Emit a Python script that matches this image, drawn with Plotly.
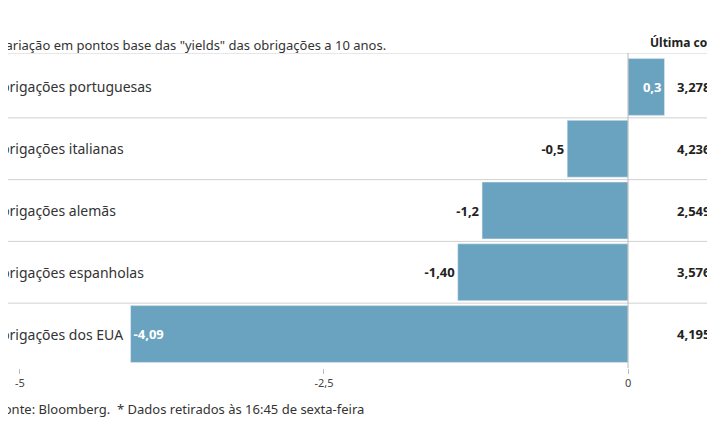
import plotly.graph_objects as go

paises = ["Obrigações portuguesas", "Obrigações italianas", "Obrigações alemãs",
          "Obrigações espanholas", "Obrigações dos EUA"]
variacao = [0.3, -0.5, -1.2, -1.40, -4.09]
rotulos = ["0,3", "-0,5", "-1,2", "-1,40", "-4,09"]
cotacao = ["3,278%", "4,236%", "2,549%", "3,576%", "4,195%"]

cor = "#6aa3bf"
pos = ["inside", "outside", "outside", "outside", "inside"]
cores_txt = ["white", "#222", "#222", "#222", "white"]

fig = go.Figure(go.Bar(
    x=variacao, y=paises, orientation="h", marker_color=cor, width=0.92,
    text=["<b>" + r + "</b>" for r in rotulos], textposition=pos, insidetextanchor="end",
    textfont=dict(color=cores_txt, size=13), cliponaxis=False,
))

for i, p in enumerate(paises):
    fig.add_annotation(x=-0.028, xref="paper", y=p, yref="y", text=p, showarrow=False,
                       xanchor="left", font=dict(size=14, color="#333"))
    fig.add_annotation(x=0.933, xref="paper", y=p, yref="y", text="<b>" + cotacao[i] + "</b>",
                       showarrow=False, xanchor="left", font=dict(size=13, color="#222"))
    if i > 0:
        fig.add_shape(type="line", xref="paper", x0=0, x1=1, y0=i - 0.5, y1=i - 0.5,
                      line=dict(color="#d0d0d0", width=1))
fig.add_shape(type="line", xref="paper", x0=0, x1=1, y0=-0.55, y1=-0.55,
              line=dict(color="#d0d0d0", width=1))
fig.add_shape(type="line", x0=0, x1=0, y0=-0.55, y1=4.55, line=dict(color="#bbb", width=1))

fig.add_annotation(x=-0.017, xref="paper", y=1.06, yref="paper", showarrow=False, xanchor="left",
                   text="Variação em pontos base das \"yields\" das obrigações a 10 anos.",
                   font=dict(size=13, color="#333"))
fig.add_annotation(x=0.895, xref="paper", y=1.0, yref="paper", yanchor="bottom", showarrow=False,
                   xanchor="left", text="<b>Última cotação</b>", font=dict(size=12, color="#222"))
fig.add_annotation(x=-0.018, xref="paper", y=-0.095, yref="paper", yanchor="top", showarrow=False,
                   xanchor="left", text="Fonte: Bloomberg.  * Dados retirados às 16:45 de sexta-feira",
                   font=dict(size=13, color="#333"))

fig.update_layout(
    width=715, height=445, margin=dict(l=0, r=0, t=45, b=85),
    plot_bgcolor="white", paper_bgcolor="white", showlegend=False,
    font=dict(family="Noto Sans", size=12, color="#333"),
    xaxis=dict(range=[-5.098, 0.781], tickvals=[-5, -2.5, 0], ticktext=["-5", "-2,5", "0"],
               showgrid=False, zeroline=False, ticks="outside", ticklen=5, tickcolor="#bbb",
               tickfont=dict(size=11, color="#444")),
    yaxis=dict(showticklabels=False, showgrid=False, range=[4.55, -0.55]),
)

fig.write_html("out.html")
